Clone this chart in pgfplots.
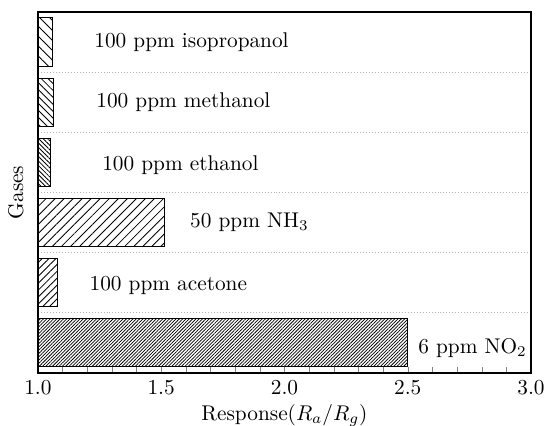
\documentclass[border=0pt]{standalone}
\usepackage{pgfplots}
\pgfplotsset{compat=1.18}
\usetikzlibrary{patterns.meta}
\begin{document}
\begin{tikzpicture}
\begin{axis}[
  scale only axis,
  width=231.5pt, height=169.5pt,
  xmin=1, xmax=3, ymin=-0.5, ymax=5.5,
  xbar, bar width=0.8, bar shift=0pt,
  xtick={1.0,1.5,2.0,2.5,3.0},
  xticklabels={1.0,1.5,2.0,2.5,3.0},
  minor x tick num=4,
  xtick pos=bottom,
  tick align=inside,
  major tick length=3pt, minor tick length=3pt,
  ytick={0.5,1.5,2.5,3.5,4.5},
  yticklabels={},
  ytick style={draw=none},
  ymajorgrids,
  grid style={densely dotted, gray!60, line width=0.3pt},
  axis line style={line width=0.8pt},
  xlabel={Response($R_a/R_g$)},
  ylabel={Gases},
  ylabel style={at={(axis description cs:-0.045,0.5)}, anchor=center},
  xlabel style={yshift=2.5pt},
  clip=true,
]
\addplot[draw=black, line width=0.5pt, pattern={Lines[angle=45, distance=1.1pt, line width=0.35pt]}, pattern color=black] coordinates {(2.50,0)};
\addplot[draw=black, line width=0.5pt, pattern={Lines[angle=45, distance=2.3pt, line width=0.4pt]}, pattern color=black] coordinates {(1.08,1)};
\addplot[draw=black, line width=0.5pt, pattern={Lines[angle=45, distance=3pt, line width=0.4pt]}, pattern color=black] coordinates {(1.515,2)};
\addplot[draw=black, line width=0.5pt, pattern={Lines[angle=-45, distance=1.5pt, line width=0.4pt]}, pattern color=black] coordinates {(1.05,3)};
\addplot[draw=black, line width=0.5pt, pattern={Lines[angle=-45, distance=2.3pt, line width=0.4pt]}, pattern color=black] coordinates {(1.065,4)};
\addplot[draw=black, line width=0.5pt, pattern={Lines[angle=-45, distance=3.3pt, line width=0.4pt]}, pattern color=black] coordinates {(1.06,5)};
\node at (axis cs:1.623,5) {100 ppm isopropanol};
\node at (axis cs:1.59,4) {100 ppm methanol};
\node at (axis cs:1.578,2.95) {100 ppm ethanol};
\node at (axis cs:1.858,2) {50 ppm NH$_3$};
\node at (axis cs:1.529,0.96) {100 ppm acetone};
\node at (axis cs:2.763,-0.08) {6 ppm NO$_2$};
\end{axis}
\pgfresetboundingbox
\path ([shift={(-17.8pt,-24.6pt)}]current axis.south west) rectangle ([shift={(7.5pt,5.6pt)}]current axis.north east);
\end{tikzpicture}
\end{document}
